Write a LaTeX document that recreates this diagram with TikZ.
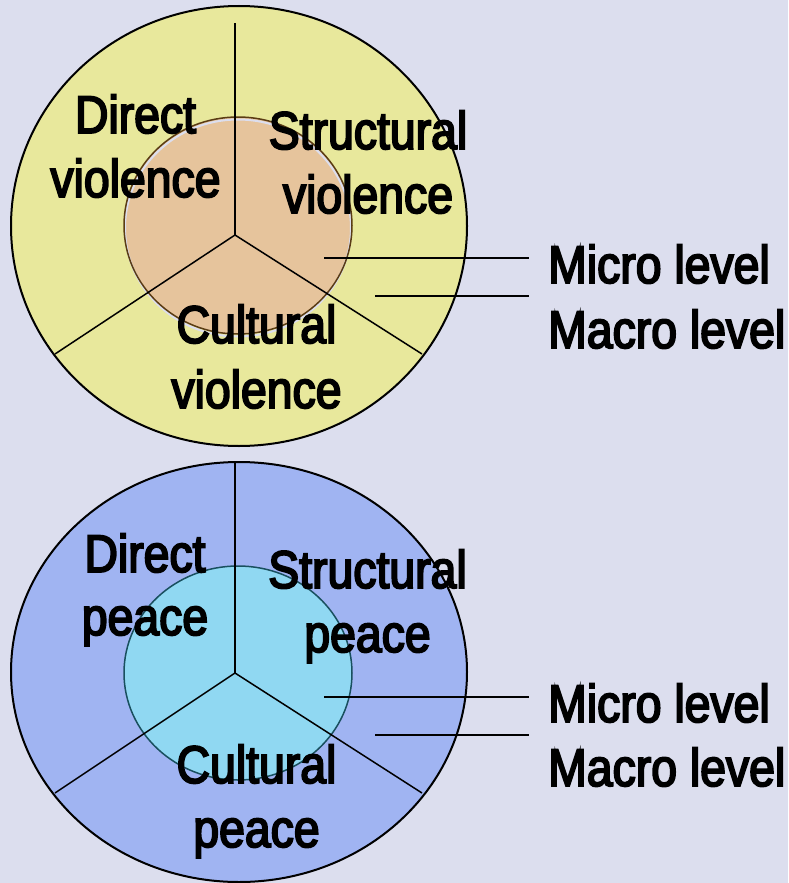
\documentclass[tikz,border=0pt]{standalone}
\usepackage{fontspec}
\setmainfont[FakeStretch=0.875,FakeBold=3.5]{Liberation Sans}
\definecolor{bg}{RGB}{220,222,238}
\definecolor{yelo}{RGB}{232,232,156}
\definecolor{tan}{RGB}{230,196,156}
\definecolor{tanedge}{RGB}{90,60,20}
\definecolor{blueo}{RGB}{160,180,242}
\definecolor{bluei}{RGB}{144,216,242}
\definecolor{bluedge}{RGB}{25,80,95}
\tikzset{
  lbl/.style={anchor=base, inner sep=0pt, font=\fontsize{53}{64}\selectfont},
  side/.style={anchor=base west, inner sep=0pt, font=\fontsize{53}{64}\selectfont},
  spoke/.style={line width=1.5pt, black},
  leader/.style={line width=2pt, black},
  outer/.style={line width=2pt, draw=black},
}
\begin{document}
\begin{tikzpicture}[x=1pt,y=-1pt]
\fill[bg] (0,0) rectangle (788,883);
\useasboundingbox (0,0) rectangle (788,883);
% ---------- top: violence ----------
\filldraw[outer, fill=yelo] (239,226) ellipse [x radius=228, y radius=220];
\fill[tan] (238,225.5) ellipse [x radius=114, y radius=108.5];
\draw[bg, line width=2pt] (238,228) ellipse [x radius=113, y radius=108.5];
\draw[tanedge, line width=1.5pt] (238,225.5) ellipse [x radius=114, y radius=108.5];
\coordinate (c1) at (235,235);
\coordinate (t1) at (235,23);
\coordinate (l1) at (55,354);
\coordinate (r1) at (422,354);
\draw[spoke] (c1) -- (t1);
\draw[spoke] (c1) -- (l1);
\draw[spoke] (c1) -- (r1);
\coordinate (mi1a) at (324,258);
\coordinate (mi1b) at (529,258);
\coordinate (ma1a) at (375,296);
\coordinate (ma1b) at (529,296);
\draw[leader] (mi1a) -- (mi1b);
\draw[leader] (ma1a) -- (ma1b);
\node[lbl] (dv1) at (135.5,133) {Direct};
\node[lbl] (dv2) at (135.5,197) {violence};
\node[lbl] (sv1) at (368,149) {Structural};
\node[lbl] (sv2) at (368,213) {violence};
\node[lbl] (cv1) at (256.5,343) {Cultural};
\node[lbl] (cv2) at (256.5,408) {violence};
\node[side] (mic1) at (548,283) {Micro level};
\node[side] (mac1) at (548,348) {Macro level};
% ---------- bottom: peace ----------
\filldraw[outer, fill=blueo] (239,672) ellipse [x radius=228, y radius=210];
\filldraw[fill=bluei, draw=bluedge, line width=1.5pt] (238,673) ellipse [x radius=114, y radius=107];
\coordinate (c2) at (235,673);
\coordinate (t2) at (235,463);
\coordinate (l2) at (55,793);
\coordinate (r2) at (422,793);
\draw[spoke] (c2) -- (t2);
\draw[spoke] (c2) -- (l2);
\draw[spoke] (c2) -- (r2);
\coordinate (mi2a) at (324,697);
\coordinate (mi2b) at (529,697);
\coordinate (ma2a) at (375,735);
\coordinate (ma2b) at (529,735);
\draw[leader] (mi2a) -- (mi2b);
\draw[leader] (ma2a) -- (ma2b);
\node[lbl] (dp1) at (145,572) {Direct};
\node[lbl] (dp2) at (145,635) {peace};
\node[lbl] (sp1) at (367.5,588) {Structural};
\node[lbl] (sp2) at (367.5,652) {peace};
\node[lbl] (cp1) at (256.5,783) {Cultural};
\node[lbl] (cp2) at (256.5,847) {peace};
\node[side] (mic2) at (548,722) {Micro level};
\node[side] (mac2) at (548,786) {Macro level};
\end{tikzpicture}
\end{document}
